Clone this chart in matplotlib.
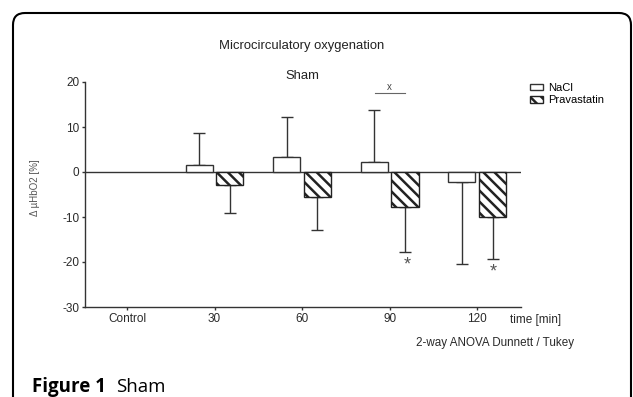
import numpy as np
import matplotlib
matplotlib.use('Agg')
from matplotlib import pyplot as plt
from matplotlib.patches import FancyBboxPatch

plt.rcParams['font.family'] = ['Liberation Sans', 'DejaVu Sans']
plt.rcParams['hatch.linewidth'] = 1.8

categories = ['Control', '30', '60', '90', '120']
nacl_mean = [1.6, 3.3, 2.2, -2.3]
nacl_sd = [7.0, 8.9, 11.6, 18.2]
prava_mean = [-2.9, -5.5, -7.7, -9.9]
prava_sd = [6.1, 7.4, 10.1, 9.4]
yticks = [-30, -20, -10, 0, 10, 20]
# significance marks: (category index, offset, y)
stars = [(3, 0.2, -20.7), (4, 0.18, -22.2)]

W, H = 633, 397
fig = plt.figure(figsize=(W / 100, H / 100), dpi=100)
ax = fig.add_axes([85 / W, 1 - 307 / H, (521 - 85) / W, (307 - 82) / H])

line_col = '#333333'
x = np.arange(1, len(categories))
width = 0.31
off = 0.175


def one_sided(mean, sd):
    lower = [s if m < 0 else 0 for m, s in zip(mean, sd)]
    upper = [s if m >= 0 else 0 for m, s in zip(mean, sd)]
    return [lower, upper]


ax.axhline(0, color=line_col, lw=1.0, zorder=1)
ax.bar(x - off, nacl_mean, width, color='white', edgecolor=line_col, lw=1.0,
       label='NaCl', zorder=2)
ax.bar(x + off, prava_mean, width, color='white', edgecolor='#222222', lw=1.0,
       hatch='\\\\\\', label='Pravastatin', zorder=2)
ax.errorbar(x - off, nacl_mean, yerr=one_sided(nacl_mean, nacl_sd), fmt='none',
            ecolor=line_col, elinewidth=1.0, capsize=4.5, capthick=1.0, zorder=1.5)
ax.errorbar(x + off, prava_mean, yerr=one_sided(prava_mean, prava_sd), fmt='none',
            ecolor=line_col, elinewidth=1.0, capsize=4.5, capthick=1.0, zorder=1.5)

for i, dx, yy in stars:
    ax.text(i + dx, yy, '*', ha='center', va='center', fontsize=13,
            color='#555555')
ax.plot([2.83, 3.17], [17.6, 17.6], color='#666666', lw=0.8)
ax.text(3.0, 18.9, 'x', ha='center', va='center', fontsize=7, color='#444444')

ax.set_xlim(-0.48, 4.5)
ax.set_ylim(-30, 20)
ax.set_xticks(np.arange(len(categories)))
ax.set_xticklabels(categories)
ax.set_yticks(yticks)
ax.set_yticklabels([str(v) for v in yticks])
ax.tick_params(length=2.5, width=1.0, color=line_col, labelsize=8.5,
               labelcolor='#2a2a2a', pad=1.5)
for s in ['top', 'right']:
    ax.spines[s].set_visible(False)
for s in ['left', 'bottom']:
    ax.spines[s].set_color(line_col)
    ax.spines[s].set_linewidth(1.0)

ax.set_ylabel('\u0394 \u00b5HbO2 [%]', fontsize=7, color='#555555')
ax.yaxis.set_label_coords(-0.103, 0.53)

fig.legend(loc='upper left', bbox_to_anchor=(530 / W, 1 - 83 / H), frameon=False,
           fontsize=8, handlelength=1.2, handleheight=0.55, handletextpad=0.4,
           labelspacing=0.2, borderpad=0, borderaxespad=0)

fig.text(302 / W, 1 - 46 / H, 'Microcirculatory oxygenation', ha='center',
         va='center', fontsize=9.4, color='#222222')
fig.text(302 / W, 1 - 76 / H, 'Sham', ha='center', va='center', fontsize=9.4,
         color='#222222')
fig.text(510 / W, 1 - 320 / H, 'time [min]', ha='left', va='center', fontsize=8.5,
         color='#2a2a2a')
fig.text(574 / W, 1 - 343 / H, '2-way ANOVA Dunnett / Tukey', ha='right',
         va='center', fontsize=8.4, color='#2a2a2a')

# caption
fig.text(32 / W, 1 - 392 / H, 'Figure 1', ha='left', va='baseline', fontsize=13.5,
         fontweight='bold', family='Open Sans')
fig.text(116 / W, 1 - 392 / H, 'Sham', ha='left', va='baseline', fontsize=13.5,
         family='Open Sans')

# rounded frame around the figure
frame = FancyBboxPatch((13 / W, -0.1), (631 - 13) / W, 1 - 13 / H + 0.1,
                       boxstyle='round,pad=0,rounding_size=%f' % (12 / W),
                       mutation_aspect=W / H, transform=fig.transFigure,
                       fill=False, edgecolor='black', lw=1.5, clip_on=False)
fig.add_artist(frame)

fig.savefig('out.png', dpi=100)
